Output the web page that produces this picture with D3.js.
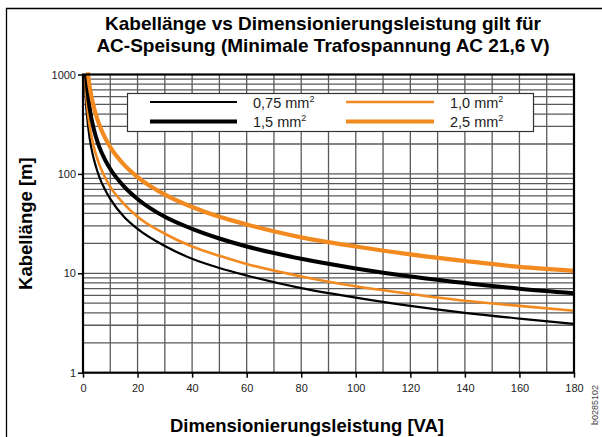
<!DOCTYPE html>
<meta charset="utf-8">
<script src="https://d3js.org/d3.v7.min.js"></script>
<style>
  body { margin: 0; background: #fff; }
  text { font-family: "Liberation Sans", Arial, sans-serif; }
</style>
<div id="chart"></div>
<script>

  // Leistung [VA] and read-off cable lengths [m] per cross section
  var p075 = [0.6, 1, 2, 3, 4, 5, 6, 8, 10, 15, 20, 30, 40, 50, 60, 80, 100, 120, 140, 160, 180];
  var l075 = [930, 560, 280, 186, 140, 112, 93, 70, 56, 37, 28, 18.8, 14, 11.3, 9.5, 7.1, 5.7, 4.7, 4.0, 3.5, 3.1];

  var p10 = [0.75, 1, 2, 3, 4, 5, 6, 8, 10, 15, 20, 30, 40, 50, 60, 80, 100, 120, 140, 160, 180];
  var l10 = [1000, 745, 372, 248, 186, 149, 124, 93, 74, 50, 37, 25, 18.6, 15, 12.4, 9.3, 7.4, 6.2, 5.3, 4.7, 4.2];

  var p15 = [1.1, 2, 3, 4, 5, 6, 8, 10, 15, 20, 30, 40, 50, 60, 80, 100, 120, 140, 160, 180];
  var l15 = [1000, 560, 372, 280, 224, 186, 140, 112, 75, 56, 37, 28, 22.4, 18.6, 14, 11.2, 9.3, 8.0, 7.0, 6.3];

  var p25 = [1.8, 2, 3, 4, 5, 6, 8, 10, 15, 20, 30, 40, 50, 60, 80, 100, 120, 140, 160, 180];
  var l25 = [1050, 930, 620, 465, 372, 310, 233, 186, 124, 93, 62, 46.5, 37, 31, 23, 18.6, 15.5, 13.3, 11.6, 10.6];

  var xTicks = [0, 20, 40, 60, 80, 100, 120, 140, 160, 180];
  var yTicks = [1, 10, 100, 1000];

  var orange = "#f28a1f";
  var series = [
    {name: "0,75 mm", p: p075, l: l075, color: "#000", w: 2.2},
    {name: "1,0 mm",  p: p10,  l: l10,  color: orange, w: 2.6},
    {name: "1,5 mm",  p: p15,  l: l15,  color: "#000", w: 4},
    {name: "2,5 mm",  p: p25,  l: l25,  color: orange, w: 4.2}
  ];

  var W = 602, H = 437;
  var pL = 83, pR = 574, pT = 74.5, pB = 372.7;

  var svg = d3.select("#chart").append("svg")
    .attr("width", W).attr("height", H);

  // outer frame (left and top only visible)
  svg.append("path").attr("d", "M6.5,437V8.5H602")
    .attr("fill", "none").attr("stroke", "#000").attr("stroke-width", 1.3);

  var x = d3.scaleLinear().domain([0, 180]).range([pL, pR]);
  var y = d3.scaleLog().domain([1, 1000]).range([pB, pT]);

  // grid
  var grid = svg.append("g").attr("stroke", "#5a5a5a").attr("stroke-width", 1.3);
  d3.range(10, 180, 10).forEach(function(v) {
    grid.append("line").attr("x1", x(v)).attr("x2", x(v)).attr("y1", pT).attr("y2", pB);
  });
  [1, 10, 100].forEach(function(dec) {
    d3.range(2, 10).forEach(function(m) {
      grid.append("line").attr("x1", pL).attr("x2", pR).attr("y1", y(dec * m)).attr("y2", y(dec * m));
    });
    if (dec > 1) grid.append("line").attr("x1", pL).attr("x2", pR).attr("y1", y(dec)).attr("y2", y(dec));
  });

  // axes
  var xAxis = d3.axisBottom(x).tickValues(xTicks).tickSize(5).tickPadding(7);
  var gx = svg.append("g").attr("transform", "translate(0," + pB + ")").call(xAxis);
  var yAxis = d3.axisLeft(y).tickValues(yTicks).tickFormat(d3.format("d")).tickSize(5).tickPadding(2);
  var gy = svg.append("g").attr("transform", "translate(" + pL + ",0)").call(yAxis);
  [gx, gy].forEach(function(g) {
    g.select(".domain").remove();
    g.selectAll("line").attr("stroke", "#000").attr("stroke-width", 1.5);
    g.selectAll("text").attr("font-size", 11).attr("fill", "#222")
      .style("font-family", "'Liberation Sans Narrow', 'Liberation Sans', Arial, sans-serif");
  });

  // legend box
  svg.append("rect").attr("x", 127.5).attr("y", 93.5).attr("width", 406).attr("height", 38)
    .attr("fill", "#fff").attr("stroke", "#333").attr("stroke-width", 1.2);

  // curves
  var line = d3.line().curve(d3.curveMonotoneX);
  series.forEach(function(s) {
    svg.append("path")
      .attr("d", line(s.p.map(function(p, i) { return [x(p), y(s.l[i])]; })))
      .attr("fill", "none").attr("stroke", s.color).attr("stroke-width", s.w);
  });

  // plot border
  svg.append("rect").attr("x", pL).attr("y", pT).attr("width", pR - pL).attr("height", pB - pT)
    .attr("fill", "none").attr("stroke", "#000").attr("stroke-width", 2.2);

  // legend entries
  var legPos = [[150, 237, 102, 253], [346, 434, 102, 450], [150, 237, 121.5, 253], [346, 434, 121.5, 450]];
  series.forEach(function(s, i) {
    var lp = legPos[i];
    svg.append("line").attr("x1", lp[0]).attr("x2", lp[1]).attr("y1", lp[2]).attr("y2", lp[2])
      .attr("stroke", s.color).attr("stroke-width", s.w);
    var t = svg.append("text").attr("x", lp[3]).attr("y", lp[2] + 5.5).attr("font-size", 14.5).attr("fill", "#222");
    t.append("tspan").text(s.name);
    t.append("tspan").attr("font-size", 9).attr("dy", -6).text("2");
  });

  // titles
  svg.append("text").attr("x", 323).attr("y", 30).attr("text-anchor", "middle")
    .attr("font-size", 19).attr("font-weight", "bold").text("Kabellänge vs Dimensionierungsleistung gilt für");
  svg.append("text").attr("x", 323).attr("y", 52).attr("text-anchor", "middle")
    .attr("font-size", 19).attr("font-weight", "bold").text("AC-Speisung (Minimale Trafospannung AC 21,6 V)");

  svg.append("text").attr("transform", "translate(32," + ((pT + pB) / 2) + ") rotate(-90)")
    .attr("text-anchor", "middle").attr("font-size", 18.5).attr("font-weight", "bold").text("Kabellänge [m]");
  svg.append("text").attr("x", 307).attr("y", 432).attr("text-anchor", "middle")
    .attr("font-size", 18.5).attr("font-weight", "bold").text("Dimensionierungsleistung [VA]");

  svg.append("text").attr("transform", "translate(598,405) rotate(-90)")
    .attr("text-anchor", "middle").attr("font-size", 9).attr("fill", "#444").text("b0285102");

</script>
